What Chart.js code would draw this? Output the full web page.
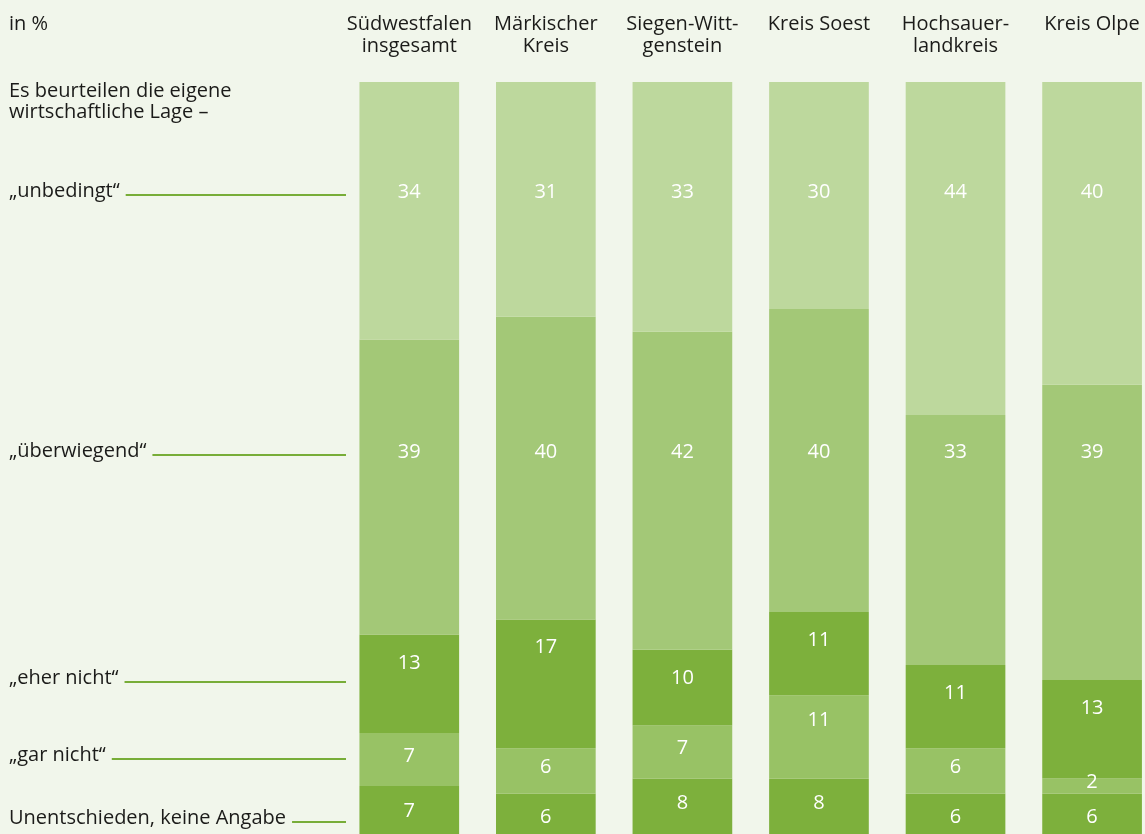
<!DOCTYPE html>
<html lang="de">
<head>
<meta charset="utf-8">
<title>Wirtschaftliche Lage</title>
<script src="https://cdn.jsdelivr.net/npm/chart.js@4"></script>
<style>
  html, body { margin: 0; padding: 0; background: #f1f6eb; overflow: hidden; }
  #wrap { position: relative; width: 1165px; height: 842px; }
</style>
</head>
<body>
<div id="wrap"><canvas id="lage" width="1165" height="842"></canvas></div>
<script>
const regions = [
  ['Südwestfalen', 'insgesamt'],
  ['Märkischer', 'Kreis'],
  ['Siegen-Witt-', 'genstein'],
  ['Kreis Soest', ''],
  ['Hochsauer-', 'landkreis'],
  ['Kreis Olpe', '']
];

const answers = ['„unbedingt“', '„überwiegend“', '„eher nicht“', '„gar nicht“', 'Unentschieden, keine Angabe'];

// shares per region, top of the bar to the bottom
const unbedingt    = [34, 31, 33, 30, 44, 40];
const ueberwiegend = [39, 40, 42, 40, 33, 39];
const eherNicht    = [13, 17, 10, 11, 11, 13];
const garNicht     = [7, 6, 7, 11, 6, 2];
const keineAngabe  = [7, 6, 8, 8, 6, 6];

const FONT = '"Open Sans", "Noto Sans", sans-serif';
const INK = '#1b1b19';
const LINE = '#78ad38';

// baselines of the answer labels on the left
const rowBaselines = [197, 457, 684, 761, 824];

const sideLabels = {
  id: 'sideLabels',
  afterDraw(chart) {
    const ctx = chart.ctx;
    ctx.save();
    ctx.font = '20px ' + FONT;
    ctx.fillStyle = INK;
    ctx.textBaseline = 'alphabetic';
    ctx.textAlign = 'left';
    ctx.fillText('in %', 9, 30);
    ctx.fillText('Es beurteilen die eigene', 9, 97);
    ctx.fillText('wirtschaftliche Lage –', 9, 118);

    const lineEnd = chart.chartArea.left + 5;
    answers.forEach((txt, i) => {
      const y = rowBaselines[i];
      ctx.fillStyle = INK;
      ctx.fillText(txt, 9, y);
      const w = ctx.measureText(txt).width;
      ctx.strokeStyle = LINE;
      ctx.lineWidth = 1.8;
      ctx.beginPath();
      ctx.moveTo(9 + w + 6, y - 2);
      ctx.lineTo(lineEnd, y - 2);
      ctx.stroke();
    });
    ctx.restore();
  }
};

const valueLabels = {
  id: 'valueLabels',
  afterDatasetsDraw(chart) {
    const ctx = chart.ctx;
    ctx.save();
    ctx.font = '20px ' + FONT;
    ctx.fillStyle = '#ffffff';
    ctx.textAlign = 'center';
    ctx.textBaseline = 'alphabetic';
    chart.data.datasets.forEach((ds, i) => {
      chart.getDatasetMeta(i).data.forEach((bar, j) => {
        const top = Math.min(bar.y, bar.base);
        const mid = (bar.y + bar.base) / 2;
        let y;
        if (i < 2) y = rowBaselines[i] + 1;
        else if (i === 2) y = Math.min(mid + 7, top + 34);
        else y = Math.min(mid + (i === 3 ? 2 : 7), top + 31);
        ctx.fillText(String(ds.data[j]), bar.x, y);
      });
    });
    ctx.restore();
  }
};

function series(label, data, color) {
  return { label, data, backgroundColor: color, borderWidth: 0 };
}

new Chart(document.getElementById('lage'), {
  type: 'bar',
  data: {
    labels: regions,
    datasets: [
      series(answers[0], unbedingt, '#bdd89d'),
      series(answers[1], ueberwiegend, '#a3c877'),
      series(answers[2], eherNicht, '#7db03c'),
      series(answers[3], garNicht, '#98c265'),
      series(answers[4], keineAngabe, '#7db03c')
    ]
  },
  options: {
    responsive: false,
    animation: false,
    categoryPercentage: 100 / 137,
    barPercentage: 1,
    layout: { padding: { left: 341, right: 2, top: 0, bottom: 3 } },
    plugins: { legend: { display: false }, tooltip: { enabled: false } },
    scales: {
      x: {
        stacked: true,
        position: 'top',
        grid: { display: false, drawTicks: false },
        border: { display: false },
        ticks: {
          color: INK,
          padding: 25,
          font: { family: FONT, size: 20, lineHeight: 1.09 }
        },
        afterFit(scale) { scale.height = 82; }
      },
      y: {
        stacked: true,
        reverse: true,
        min: 0,
        max: 100,
        display: false
      }
    }
  },
  plugins: [sideLabels, valueLabels]
});
</script>
</body>
</html>
